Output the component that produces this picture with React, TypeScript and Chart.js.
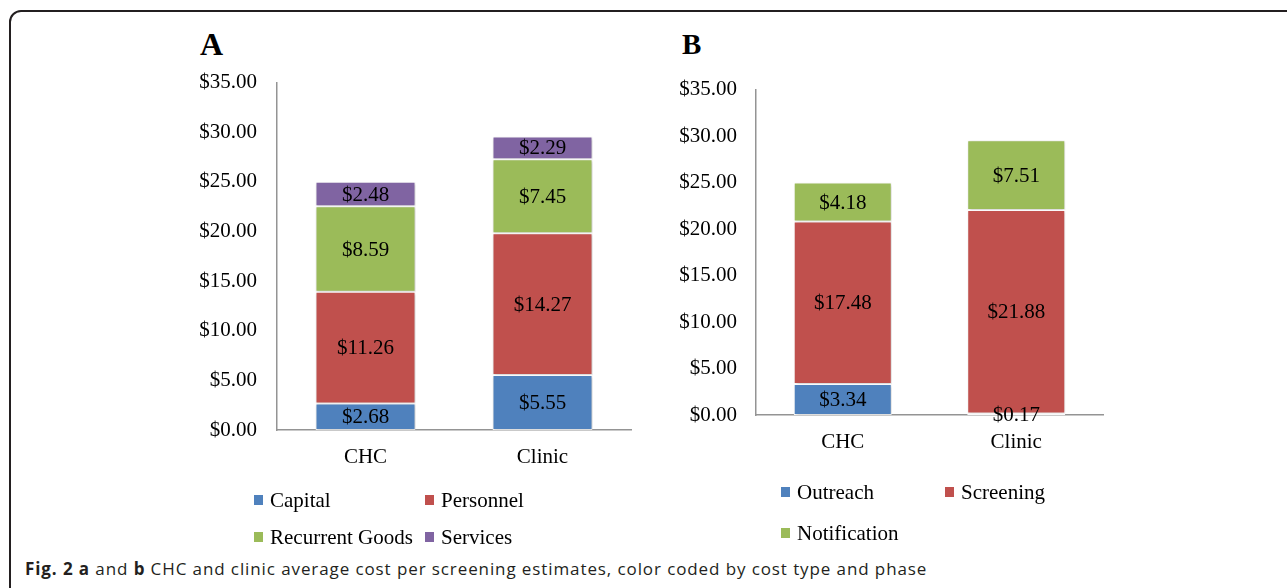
import React, { useEffect, useRef } from "react";
import { Chart, registerables } from "chart.js";

Chart.register(...registerables);

// ---------- data ----------
const categories = ["CHC", "Clinic"];

// Panel A: cost type
const capital = [2.68, 5.55];
const personnel = [11.26, 14.27];
const recurrentGoods = [8.59, 7.45];
const services = [2.48, 2.29];

// Panel B: phase
const outreach = [3.34, 0.17];
const screening = [17.48, 21.88];
const notification = [4.18, 7.51];

const yMin = 0;
const yMax = 35;
const yStep = 5;

const BLUE = "#4F81BD";
const RED = "#C0504D";
const GREEN = "#9BBB59";
const PURPLE = "#8064A2";

const SERIF = '"Liberation Serif", "Times New Roman", serif';
const FONT_SIZE = 21;
const AXIS_COLOR = "#949494";

const fmt = (v: number) => "$" + v.toFixed(2);

const shadowPlugin = {
  id: "barShadow",
  beforeDatasetsDraw(chart: any) {
    const ctx = chart.ctx;
    ctx.save();
    ctx.shadowColor = "rgba(0,0,0,0.22)";
    ctx.shadowBlur = 3;
    ctx.shadowOffsetX = 1;
    ctx.shadowOffsetY = 1;
  },
  afterDatasetsDraw(chart: any) {
    chart.ctx.restore();
  },
};

const valueLabelPlugin = {
  id: "valueLabels",
  afterDatasetsDraw(chart: any) {
    const ctx = chart.ctx;
    ctx.save();
    ctx.font = `${FONT_SIZE}px ${SERIF}`;
    ctx.fillStyle = "#000";
    ctx.textAlign = "center";
    ctx.textBaseline = "middle";
    chart.data.datasets.forEach((ds: any, i: number) => {
      const meta = chart.getDatasetMeta(i);
      meta.data.forEach((el: any, j: number) => {
        const v = ds.data[j];
        const p = el.getProps(["x", "y", "base"], true);
        ctx.fillText(fmt(v), p.x, (p.y + p.base) / 2 + 1);
      });
    });
    ctx.restore();
  },
};

type Series = { label: string; data: number[]; color: string };

function StackedChart(props: {
  left: number;
  top: number;
  width: number;
  height: number;
  yAxisWidth: number;
  padRight: number;
  tickPad: number;
  series: Series[];
}) {
  const ref = useRef<HTMLCanvasElement | null>(null);
  useEffect(() => {
    if (!ref.current) return;
    const chart = new Chart(ref.current, {
      type: "bar",
      data: {
        labels: categories,
        datasets: props.series.map((s) => ({
          label: s.label,
          data: s.data,
          backgroundColor: s.color,
          borderColor: "rgba(255,255,255,0.95)",
          borderWidth: 1,
          borderSkipped: false,
          categoryPercentage: 1,
          barPercentage: 0.565,
        })),
      },
      options: {
        responsive: false,
        animation: false,
        devicePixelRatio: 1,
        layout: { padding: { left: 0, right: props.padRight, top: 10, bottom: 20 } },
        plugins: {
          legend: { display: false },
          tooltip: { enabled: false },
        },
        scales: {
          x: {
            stacked: true,
            grid: { display: false, drawTicks: false },
            border: { display: true, color: AXIS_COLOR, width: 1.5 },
            ticks: {
              color: "#000",
              font: { family: SERIF, size: FONT_SIZE },
              padding: 15,
              maxRotation: 0,
            },
            afterFit: (scale: any) => {
              scale.height = 50;
            },
          },
          y: {
            stacked: true,
            min: yMin,
            max: yMax,
            grid: { display: false, drawTicks: false },
            border: { display: true, color: AXIS_COLOR, width: 1.5 },
            ticks: {
              stepSize: yStep,
              color: "#000",
              font: { family: SERIF, size: FONT_SIZE },
              padding: props.tickPad,
              callback: (v: any) => fmt(Number(v)),
            },
            afterFit: (scale: any) => {
              scale.width = props.yAxisWidth;
            },
          },
        },
      },
      plugins: [shadowPlugin, valueLabelPlugin],
    } as any);
    return () => chart.destroy();
  }, []);
  return (
    <canvas
      ref={ref}
      width={props.width}
      height={props.height}
      style={{
        position: "absolute",
        left: props.left,
        top: props.top,
        width: props.width,
        height: props.height,
      }}
    />
  );
}

function LegendItem(props: { x: number; y: number; color: string; label: string }) {
  return (
    <>
      <div
        style={{
          position: "absolute",
          left: props.x,
          top: props.y - 5,
          width: 9,
          height: 10,
          background: props.color,
        }}
      />
      <div
        style={{
          position: "absolute",
          left: props.x + 16,
          top: props.y - 12,
          height: 24,
          lineHeight: "24px",
          fontFamily: SERIF,
          fontSize: FONT_SIZE,
          color: "#000",
          whiteSpace: "nowrap",
        }}
      >
        {props.label}
      </div>
    </>
  );
}

export default function App() {
  const seriesA: Series[] = [
    { label: "Capital", data: capital, color: BLUE },
    { label: "Personnel", data: personnel, color: RED },
    { label: "Recurrent Goods", data: recurrentGoods, color: GREEN },
    { label: "Services", data: services, color: PURPLE },
  ];
  const seriesB: Series[] = [
    { label: "Outreach", data: outreach, color: BLUE },
    { label: "Screening", data: screening, color: RED },
    { label: "Notification", data: notification, color: GREEN },
  ];
  return (
    <div
      style={{
        position: "absolute",
        left: 0,
        top: 0,
        width: 1287,
        height: 588,
        overflow: "hidden",
        background: "#fff",
      }}
    >
      <div
        style={{
          position: "absolute",
          left: 9,
          top: 10,
          width: 1320,
          height: 620,
          border: "2px solid #231f20",
          borderRadius: 12,
          boxSizing: "border-box",
        }}
      />
      <div
        style={{
          position: "absolute",
          left: 200,
          top: 26,
          fontFamily: SERIF,
          fontWeight: "bold",
          fontSize: 32,
          lineHeight: "36px",
          color: "#000",
        }}
      >
        A
      </div>
      <div
        style={{
          position: "absolute",
          left: 682,
          top: 27,
          fontFamily: SERIF,
          fontWeight: "bold",
          fontSize: 29,
          lineHeight: "34px",
          color: "#000",
        }}
      >
        B
      </div>

      <StackedChart
        left={150}
        top={50}
        width={500}
        height={450}
        yAxisWidth={127}
        padRight={19}
        tickPad={20}
        series={seriesA}
      />
      <StackedChart
        left={630}
        top={58}
        width={500}
        height={427}
        yAxisWidth={126}
        padRight={27}
        tickPad={19}
        series={seriesB}
      />

      <LegendItem x={254} y={500} color={BLUE} label="Capital" />
      <LegendItem x={425} y={500} color={RED} label="Personnel" />
      <LegendItem x={254} y={537} color={GREEN} label="Recurrent Goods" />
      <LegendItem x={425} y={537} color={PURPLE} label="Services" />

      <LegendItem x={781} y={492} color={BLUE} label="Outreach" />
      <LegendItem x={945} y={492} color={RED} label="Screening" />
      <LegendItem x={781} y={533} color={GREEN} label="Notification" />

      <div
        style={{
          position: "absolute",
          left: 25,
          top: 558,
          height: 22,
          lineHeight: "22px",
          fontFamily: '"Open Sans", "Noto Sans", sans-serif',
          fontSize: 17,
          letterSpacing: "0.9px",
          color: "#231f20",
          whiteSpace: "nowrap",
        }}
      >
        <b>Fig. 2</b> <b>a</b> and <b>b</b> CHC and clinic average cost per screening estimates, color
        coded by cost type and phase
      </div>
    </div>
  );
}
